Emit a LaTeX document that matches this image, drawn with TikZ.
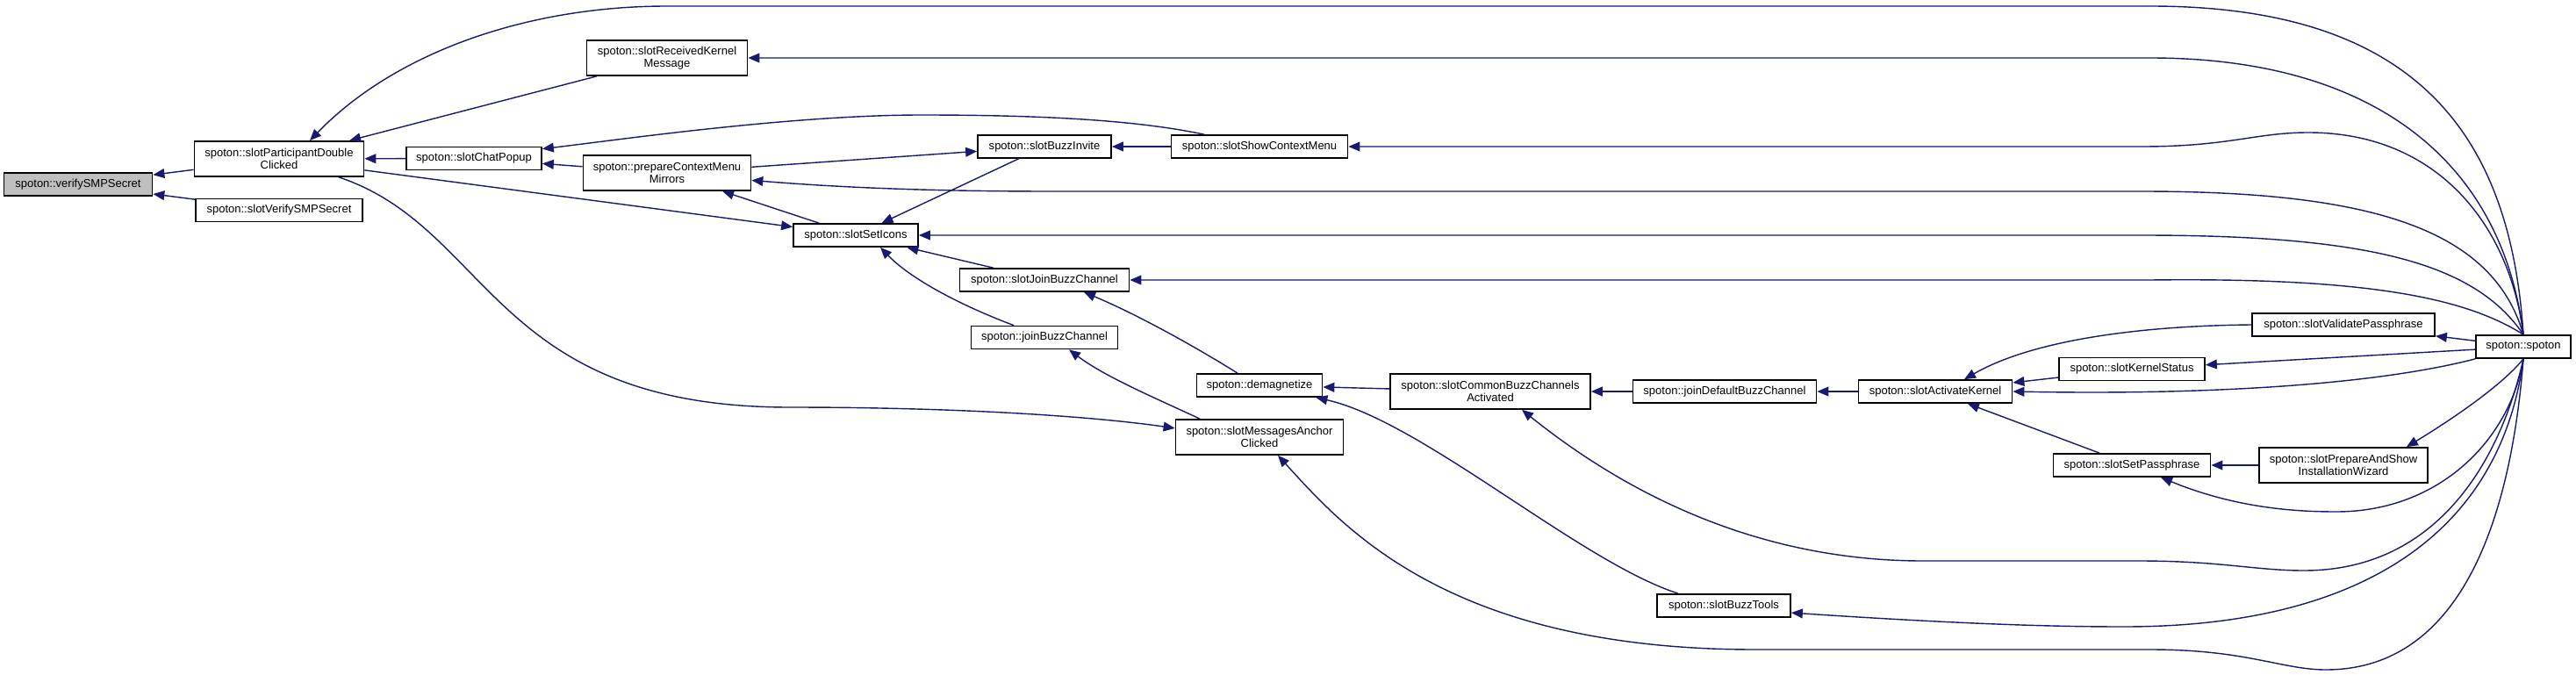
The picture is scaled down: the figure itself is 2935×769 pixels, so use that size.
\documentclass[tikz,border=0pt]{standalone}
\usepackage{fontspec}
\setmainfont{Liberation Sans}
\usepackage{tikz}
\usetikzlibrary{arrows.meta,calc}
\definecolor{edgeblue}{HTML}{191970}
\definecolor{rootgrey}{HTML}{BFBFBF}

\begin{document}
\begin{tikzpicture}[x=0.025cm, y=-0.025cm,
  fn/.style={draw=black, line width=1.2pt, fill=white, align=center, inner sep=0pt,
    font=\fontsize{9.25pt}{10pt}\selectfont, minimum height=0.65cm, minimum width=#1},
  fntwo/.style={fn=#1, minimum height=1cm},
  edge/.style={draw=edgeblue, line width=1pt, arrows={Triangle[length=3.25mm,width=2.7mm]-}}]
\useasboundingbox (0,0) rectangle (2935,769);
\node[fn=4.225cm, fill=rootgrey] (verify) at (89,210) {spoton::verifySMPSecret};
\node[fntwo=4.825cm] (participant) at (318,181) {spoton::slotParticipantDouble\\Clicked};
\node[fn=4.75cm] (slotverify) at (318,239.5) {spoton::slotVerifySMPSecret};
\node[fn=3.85cm] (chatpopup) at (540,180.5) {spoton::slotChatPopup};
\node[fntwo=4.775cm] (prepare) at (760,197) {spoton::prepareContextMenu\\Mirrors};
\node[fntwo=4.575cm] (received) at (760,66) {spoton::slotReceivedKernel\\Message};
\node[fn=3.8cm] (buzzinvite) at (1190,167) {spoton::slotBuzzInvite};
\node[fn=5.025cm] (showctx) at (1435,167) {spoton::slotShowContextMenu};
\node[fn=3.55cm] (seticons) at (975,268) {spoton::slotSetIcons};
\node[fn=4.825cm] (slotjoinbuzz) at (1190,319) {spoton::slotJoinBuzzChannel};
\node[fn=4.175cm] (joinbuzz) at (1190,384.5) {spoton::joinBuzzChannel};
\node[fn=3.575cm] (demag) at (1435,439) {spoton::demagnetize};
\node[fntwo=4.775cm] (anchor) at (1435,498) {spoton::slotMessagesAnchor\\Clicked};
\node[fntwo=5.7cm] (commonbuzz) at (1698,446) {spoton::slotCommonBuzzChannels\\Activated};
\node[fn=5.225cm] (joindefault) at (1965,446) {spoton::joinDefaultBuzzChannel};
\node[fn=4.375cm] (activate) at (2205,446) {spoton::slotActivateKernel};
\node[fn=5.2cm] (validate) at (2670,370) {spoton::slotValidatePassphrase};
\node[fn=4.15cm] (kernelstatus) at (2429,420.5) {spoton::slotKernelStatus};
\node[fn=2.7cm] (spoton) at (2875,395) {spoton::spoton};
\node[fn=4.475cm] (setpass) at (2429,530) {spoton::slotSetPassphrase};
\node[fntwo=4.8cm] (prepshow) at (2670,530) {spoton::slotPrepareAndShow\\InstallationWizard};
\node[fn=3.8cm] (buzztools) at (1964,690) {spoton::slotBuzzTools};
\draw[edge] (verify) -- (participant);
\draw[edge] (verify) -- (slotverify);
\draw[edge] ($(participant.north)+(35,0)$) .. controls (450,60) and (600,7) .. (760,7) -- (2450,7) .. controls (2750,7) and (2860,150) .. (spoton.north);
\draw[edge] (participant) -- (received);
\draw[edge] (participant) -- (chatpopup);
\draw[edge] (seticons) -- (participant);
\draw[edge] (anchor.174) .. controls (1250,475) and (1100,464) .. (900,464) .. controls (560,464) and (560,260) .. ($(participant.south)+(68,0)$);
\draw[edge] (received.east) -- (2450,66) .. controls (2700,66) and (2850,180) .. (spoton.north);
\draw[edge] (chatpopup.8) .. controls (700,160) and (900,131) .. (1050,131) .. controls (1200,131) and (1300,138) .. ($(showctx.north)+(-63,0)$);
\draw[edge] (chatpopup) -- (prepare);
\draw[edge] (prepare.-5) .. controls (950,213) and (1050,218) .. (1200,218) -- (2440,218) .. controls (2700,218) and (2840,260) .. (spoton.north);
\draw[edge] (prepare) -- (seticons);
\draw[edge] (buzzinvite) -- (prepare);
\draw[edge] (buzzinvite) -- (showctx);
\draw[edge] (showctx.east) -- (2440,167) .. controls (2540,167) and (2570,151) .. (2630,151) .. controls (2780,151) and (2860,260) .. (spoton.north);
\draw[edge] (seticons) -- (buzzinvite);
\draw[edge] (seticons.east) -- (2440,268) .. controls (2700,268) and (2820,300) .. (spoton.north);
\draw[edge] (seticons) -- (slotjoinbuzz);
\draw[edge] ($(seticons.south)+(28,0)$) .. controls (1040,320) and (1100,350) .. ($(joinbuzz.north)+(-35,0)$);
\draw[edge] (slotjoinbuzz.east) -- (2450,319) .. controls (2700,316) and (2810,340) .. (spoton.north);
\draw[edge] ($(slotjoinbuzz.south)+(45,0)$) .. controls (1300,360) and (1370,400) .. ($(demag.north)+(-25,0)$);
\draw[edge] ($(joinbuzz.south)+(28,0)$) .. controls (1260,430) and (1320,455) .. ($(anchor.north)+(-68,0)$);
\draw[edge] (demag) -- (commonbuzz);
\draw[edge] ($(demag.south east)+(-8,0)$) .. controls (1620,480) and (1800,640) .. ($(buzztools.north)+(-52,0)$);
\draw[edge] ($(anchor.south)+(21,0)$) .. controls (1530,600) and (1650,740) .. (2000,740) -- (2450,740) .. controls (2560,740) and (2600,763) .. (2650,763) .. controls (2800,763) and (2860,600) .. (spoton.south);
\draw[edge] (commonbuzz) -- (joindefault);
\draw[edge] ($(commonbuzz.south)+(36,0)$) .. controls (1850,560) and (2000,639) .. (2191,639) -- (2437,639) .. controls (2530,639) and (2570,650) .. (2625,650) .. controls (2780,650) and (2850,520) .. (spoton.south);
\draw[edge] (joindefault) -- (activate);
\draw[edge] ($(activate.north)+(33,0)$) .. controls (2320,385) and (2450,371) .. (validate.west);
\draw[edge] (activate) -- (kernelstatus);
\draw[edge] (activate.east) .. controls (2500,450) and (2700,440) .. (spoton.south west);
\draw[edge] (activate) -- (setpass);
\draw[edge] (validate) -- (spoton);
\draw[edge] (kernelstatus) -- (spoton);
\draw[edge] (setpass) -- (prepshow);
\draw[edge] ($(setpass.south)+(33,0)$) .. controls (2550,580) and (2620,583) .. (2662,583) .. controls (2780,583) and (2860,500) .. (spoton.south);
\draw[edge] ($(prepshow.north east)+(-25,0)$) .. controls (2790,480) and (2850,440) .. (spoton.south);
\draw[edge] (buzztools.-6) .. controls (2250,712) and (2350,714) .. (2420,714) .. controls (2700,714) and (2850,600) .. (spoton.south);
\end{tikzpicture}
\end{document}
